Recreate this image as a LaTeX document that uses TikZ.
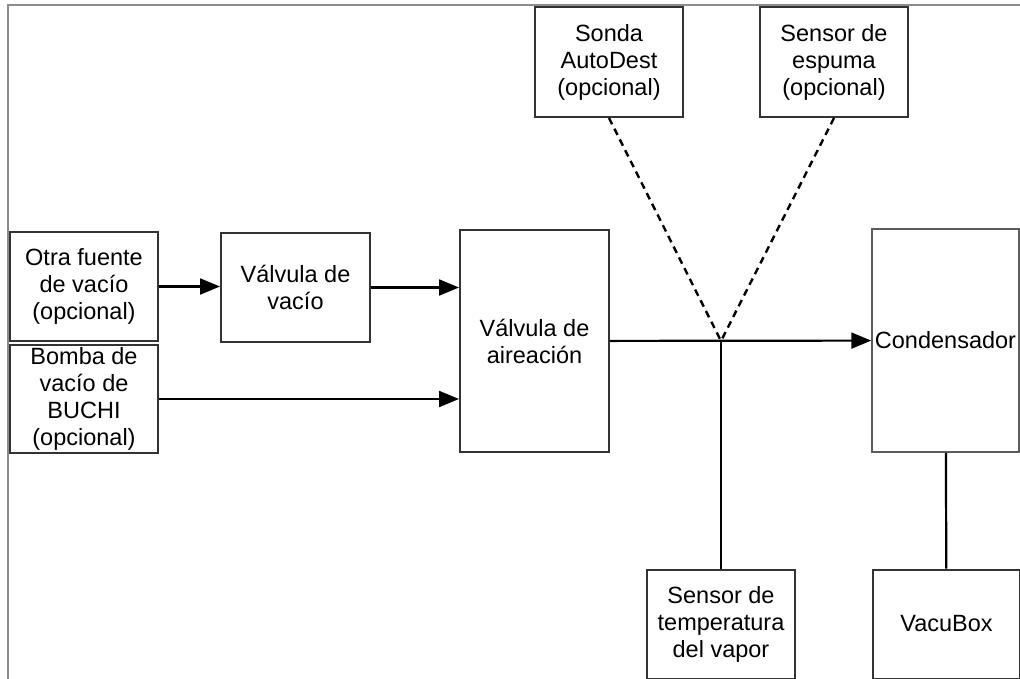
\documentclass[tikz,border=0pt]{standalone}
\usepackage{fontspec}
\setmainfont{Liberation Sans}
\usepackage{xcolor}
\usetikzlibrary{arrows.meta, positioning}

\definecolor{boxline}{HTML}{333333}
\definecolor{frameline}{HTML}{8C8C8C}

\begin{document}
\begin{tikzpicture}[
  x=1pt, y=-1pt,
  box/.style={rectangle, draw=boxline, line width=2pt, fill=white,
              minimum width=148pt, minimum height=109pt, inner sep=2pt,
              align=center, font=\fontsize{23.5}{27}\selectfont},
  condbox/.style={box, draw=boxline!80, line width=1.5pt},
  arr/.style={-{Triangle[length=20pt, width=16pt]}, line width=2.2pt},
  link/.style={line width=2.2pt},
  dots/.style={line width=2.4pt, dash pattern=on 7pt off 5pt}
]
\useasboundingbox (0,0) rectangle (1020,679);

% frame
\draw[frameline, line width=1.5pt] (8,679) -- (8,5) -- (1020,5);

\node[box] (otra)   at (84,286.5) {Otra fuente\\de vacío\\(opcional)};
\node[box, minimum height=108pt] (bomba) at (84,399) {Bomba de\\vacío de\\BUCHI\\(opcional)};
\node[box, minimum width=149pt] (vvacio) at (295.5,287.5) {Válvula de\\vacío};
\node[box, minimum width=149pt, minimum height=222pt] (aire) at (534.5,341) {Válvula de\\aireación};
\node[condbox, minimum width=147pt, minimum height=223pt] (cond) at (945.5,340.5) {Condensador};
\node[box, minimum height=110pt] (sonda)  at (609,62) {Sonda\\AutoDest\\(opcional)};
\node[box, minimum height=110pt] (espuma) at (834,62) {Sensor de\\espuma\\(opcional)};
\node[box] (tsens) at (721,624) {Sensor de\\temperatura\\del vapor};
\node[box, minimum width=147pt] (vbox) at (946.5,624) {VacuBox};

\coordinate (j) at (721,341);

\draw[arr] (otra)   -- (otra -| vvacio.west);
\draw[arr] (vvacio) -- (vvacio -| aire.west);
\draw[arr] (bomba)  -- (bomba -| aire.west);
\draw[arr] (aire)   -- (cond);
\draw[link] (j) -- (tsens);
\draw[link] (cond) -- (vbox);
\draw[dots] (sonda.south)  -- (j);
\draw[dots] (espuma.south) -- (j);

\end{tikzpicture}
\end{document}
